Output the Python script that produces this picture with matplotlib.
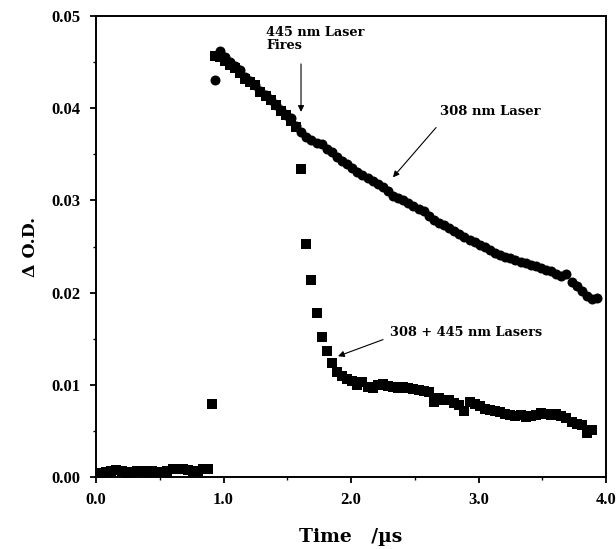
import matplotlib
matplotlib.use("Agg")
import matplotlib.pyplot as plt
from matplotlib.ticker import MultipleLocator, FormatStrFormatter

# ---- data ----
# 308 nm laser only (circles)
t_308 = [0.93, 0.97, 1.01, 1.05, 1.09, 1.13, 1.17, 1.21, 1.25, 1.29, 1.33, 1.37,
         1.41, 1.45, 1.49, 1.53, 1.57, 1.61, 1.65, 1.69, 1.73, 1.77, 1.81, 1.85,
         1.89, 1.93, 1.97, 2.01, 2.05, 2.09, 2.13, 2.17, 2.21, 2.25, 2.29, 2.33,
         2.37, 2.41, 2.45, 2.49, 2.53, 2.57, 2.61, 2.65, 2.69, 2.73, 2.77, 2.81,
         2.85, 2.89, 2.93, 2.97, 3.01, 3.05, 3.09, 3.13, 3.17, 3.21, 3.25, 3.29,
         3.33, 3.37, 3.41, 3.45, 3.49, 3.53, 3.57, 3.61, 3.65, 3.69, 3.73, 3.77,
         3.81, 3.85, 3.89, 3.93]
od_308 = [0.0431, 0.0462, 0.0455, 0.0450, 0.0446, 0.0441, 0.0434, 0.0429, 0.0425, 0.0419,
          0.0414, 0.0409, 0.0404, 0.0398, 0.0393, 0.0389, 0.0381, 0.0374, 0.0369, 0.0366,
          0.0362, 0.0361, 0.0356, 0.0352, 0.0347, 0.0343, 0.0339, 0.0335, 0.0331, 0.0328,
          0.0324, 0.0321, 0.0318, 0.0315, 0.0310, 0.0305, 0.0303, 0.0300, 0.0297, 0.0294,
          0.0291, 0.0288, 0.0283, 0.0279, 0.0276, 0.0273, 0.0270, 0.0267, 0.0264, 0.0260,
          0.0257, 0.0255, 0.0252, 0.0249, 0.0246, 0.0243, 0.0241, 0.0239, 0.0237, 0.0235,
          0.0233, 0.0232, 0.0230, 0.0229, 0.0227, 0.0225, 0.0223, 0.0220, 0.0218, 0.0220,
          0.0212, 0.0207, 0.0202, 0.0196, 0.0193, 0.0194]

# 308 + 445 nm lasers (squares)
t_both = [0.00, 0.04, 0.08, 0.12, 0.16, 0.20, 0.24, 0.28, 0.32, 0.36, 0.40, 0.44,
          0.48, 0.52, 0.56, 0.60, 0.64, 0.68, 0.72, 0.76, 0.80, 0.84, 0.88, 0.91,
          0.93, 0.97, 1.01, 1.05, 1.09, 1.13, 1.17, 1.21, 1.25, 1.29, 1.33, 1.37,
          1.41, 1.45, 1.49, 1.53, 1.57, 1.61, 1.65, 1.69, 1.73, 1.77, 1.81, 1.85,
          1.89, 1.93, 1.97, 2.01, 2.05, 2.09, 2.13, 2.17, 2.21, 2.25, 2.29, 2.33,
          2.37, 2.41, 2.45, 2.49, 2.53, 2.57, 2.61, 2.65, 2.69, 2.73, 2.77, 2.81,
          2.85, 2.89, 2.93, 2.97, 3.01, 3.05, 3.09, 3.13, 3.17, 3.21, 3.25, 3.29,
          3.33, 3.37, 3.41, 3.45, 3.49, 3.53, 3.57, 3.61, 3.65, 3.69, 3.73, 3.77,
          3.81, 3.85, 3.89]
od_both = [0.0004, 0.0004, 0.0005, 0.0007, 0.0008, 0.0007, 0.0004, 0.0005, 0.0007, 0.0006,
           0.0005, 0.0007, 0.0005, 0.0005, 0.0006, 0.0009, 0.0009, 0.0009, 0.0008, 0.0006,
           0.0007, 0.0009, 0.0009, 0.0079,
           0.0457, 0.0455, 0.0451, 0.0447, 0.0444, 0.0438, 0.0432, 0.0428, 0.0425, 0.0418,
           0.0413, 0.0409, 0.0403, 0.0397, 0.0393, 0.0386, 0.0380,
           0.0334, 0.0253, 0.0214, 0.0178, 0.0152, 0.0137, 0.0124, 0.0114,
           0.0110, 0.0106, 0.0104, 0.0100, 0.0103, 0.0098, 0.0097, 0.0100, 0.0101, 0.0099,
           0.0098, 0.0097, 0.0098, 0.0096, 0.0095, 0.0094, 0.0093, 0.0092, 0.0081, 0.0086,
           0.0083, 0.0084, 0.0080, 0.0078, 0.0072, 0.0081, 0.0079, 0.0077, 0.0074, 0.0073,
           0.0072, 0.0070, 0.0068, 0.0067, 0.0066, 0.0067, 0.0065, 0.0066, 0.0067, 0.0069,
           0.0068, 0.0067, 0.0068, 0.0066, 0.0064, 0.0060, 0.0058, 0.0056, 0.0048, 0.0051]

x_ticks = [0.0, 1.0, 2.0, 3.0, 4.0]
y_ticks = [0.00, 0.01, 0.02, 0.03, 0.04, 0.05]

label_fires = "445 nm Laser\nFires"
label_308 = "308 nm Laser"
label_both = "308 + 445 nm Lasers"

# ---- figure ----
fig = plt.figure(figsize=(6.16, 5.49), dpi=100)
ax = fig.add_axes([96 / 616, 1 - 477 / 549, 510 / 616, 461 / 549])

serif = ["DejaVu Serif"]
tickfont = ["Liberation Serif"]

ax.plot(t_both, od_both, linestyle="none", marker="s", markersize=6.6,
        color="black", markeredgewidth=0, zorder=3)
ax.plot(t_308, od_308, linestyle="none", marker="o", markersize=7.2,
        color="black", markeredgewidth=0, zorder=3)

ax.set_xlim(0, 4.0)
ax.set_ylim(0, 0.05)
ax.set_xticks(x_ticks)
ax.set_yticks(y_ticks)
ax.xaxis.set_major_formatter(FormatStrFormatter("%.1f"))
ax.yaxis.set_major_formatter(FormatStrFormatter("%.2f"))
ax.xaxis.set_minor_locator(MultipleLocator(0.5))
ax.yaxis.set_minor_locator(MultipleLocator(0.005))

ax.tick_params(axis="both", which="major", direction="out", length=4, width=1.3,
               pad=7, labelsize=12)
ax.tick_params(axis="both", which="minor", direction="out", length=2, width=1.0)
ax.tick_params(top=False, right=False, which="both")
for lab in ax.get_xticklabels() + ax.get_yticklabels():
    lab.set_family(tickfont)
    lab.set_fontweight("bold")

for s in ax.spines.values():
    s.set_linewidth(1.4)
    s.set_color("black")

ax.set_ylabel("\u0394 O.D.", family=serif, fontweight="bold", fontsize=12.5,
              labelpad=9)
ax.set_xlabel("Time   /\u00b5s", family=serif, fontweight="bold", fontsize=13.5,
              labelpad=14)

arrow = dict(arrowstyle="-|>", lw=0.8, color="black", mutation_scale=9,
             shrinkA=0, shrinkB=0)

ax.text(1.333, 0.0475, label_fires, family=serif, fontweight="bold", fontsize=9.3,
        ha="left", va="center", linespacing=1.05)
ax.annotate("", xy=(1.608, 0.0396), xytext=(1.608, 0.0448), arrowprops=arrow)

ax.text(2.698, 0.0396, label_308, family=serif, fontweight="bold", fontsize=9.5,
        ha="left", va="center")
ax.annotate("", xy=(2.329, 0.0325), xytext=(2.667, 0.0379), arrowprops=arrow)

ax.text(2.306, 0.0157, label_both, family=serif, fontweight="bold", fontsize=9.3,
        ha="left", va="center")
ax.annotate("", xy=(1.898, 0.0131), xytext=(2.251, 0.0149), arrowprops=arrow)

fig.savefig("out.png", dpi=100)
